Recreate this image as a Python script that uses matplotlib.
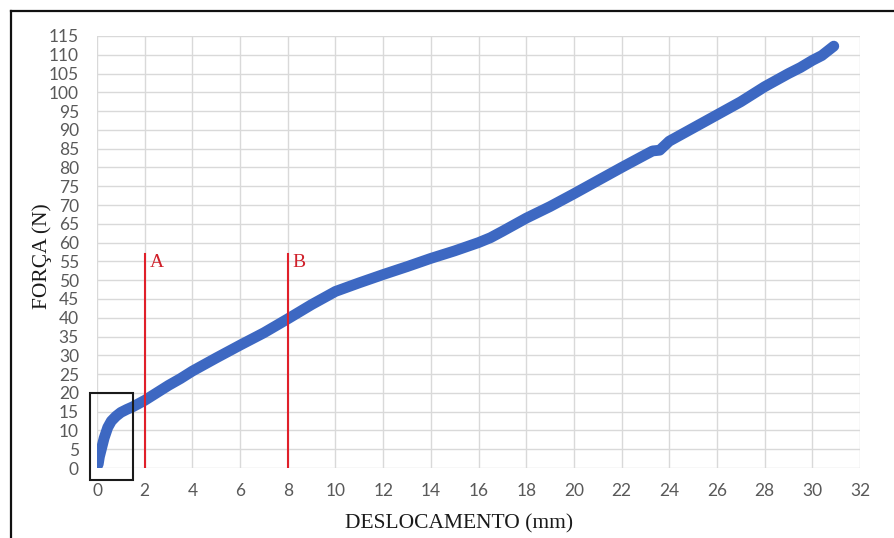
import matplotlib
matplotlib.use("Agg")
import matplotlib.pyplot as plt
from matplotlib.patches import Rectangle
from matplotlib.lines import Line2D

# Curva força x deslocamento
deslocamento = [0.0, 0.05, 0.1, 0.2, 0.3, 0.45, 0.6, 0.8, 1.0, 1.25, 1.5, 2.0, 2.5,
                3.0, 3.5, 4.0, 5.0, 6.0, 7.0, 8.0, 9.0, 10.0, 11.0, 12.0, 13.0,
                14.0, 15.0, 16.0, 16.5, 17.0, 18.0, 19.0, 20.0, 21.0, 22.0, 23.0,
                23.3, 23.6, 24.0, 25.0, 26.0, 27.0, 28.0, 29.0, 29.5, 30.0, 30.4,
                30.9]
forca = [0.5, 1.0, 3.0, 5.5, 8.0, 10.8, 12.5, 13.8, 14.8, 15.6, 16.3, 18.0, 20.0,
         22.0, 23.8, 25.8, 29.3, 32.7, 36.0, 39.7, 43.5, 47.0, 49.3, 51.5, 53.6,
         55.8, 57.8, 60.0, 61.3, 63.0, 66.5, 69.6, 73.0, 76.5, 80.0, 83.4, 84.4,
         84.6, 87.0, 90.5, 94.0, 97.5, 101.5, 105.0, 106.6, 108.5, 109.8, 112.3]

x_ticks = list(range(0, 33, 2))
y_ticks = list(range(0, 116, 5))

marcas = {"A": 2.0, "B": 8.0}
marca_topo = 57

fig = plt.figure(figsize=(8.95, 5.38), dpi=100)
ax = fig.add_axes([0.1084, 0.1301, 0.8525, 0.803])

ax.plot(deslocamento, forca, color="#3D68C2", lw=7.8, solid_capstyle="round",
        solid_joinstyle="round", zorder=3)

for nome, xv in marcas.items():
    ax.plot([xv, xv], [0, marca_topo], color="#E0202A", lw=1.5, zorder=4)
    ax.text(xv + 0.2, marca_topo, nome, color="#D0202A", fontsize=14,
            family="Liberation Serif", va="top", ha="left")

# caixa de destaque no início da curva
ax.add_patch(Rectangle((-0.3, -3.2), 1.8, 23.2, fill=False, ec="#1a1a1a",
                       lw=1.5, zorder=5, clip_on=False))

ax.set_xlim(0, 32)
ax.set_ylim(0, 115)
ax.set_xticks(x_ticks)
ax.set_yticks(y_ticks)
ax.grid(True, color="#d9d9d9", lw=1.0)
ax.set_axisbelow(True)
for s in ax.spines.values():
    s.set_visible(False)
ax.tick_params(length=0, labelsize=12.5, labelcolor="#595959")
ax.tick_params(axis="y", pad=13)
ax.tick_params(axis="x", pad=11)
for lab in ax.get_xticklabels() + ax.get_yticklabels():
    lab.set_family("Lato")

ax.set_xlabel("DESLOCAMENTO (mm)", family="Liberation Serif", fontsize=15.5,
              color="#1a1a1a")
ax.xaxis.set_label_coords(0.474, -0.108)
ax.set_ylabel("FORÇA (N)", family="Liberation Serif", fontsize=15.5,
              color="#1a1a1a")
ax.yaxis.set_label_coords(-0.059, 0.49)

# moldura da imagem (esquerda e topo)
fig.add_artist(Line2D([11 / 895, 11 / 895], [0, 1 - 11 / 538],
                      transform=fig.transFigure, color="#111111", lw=1.6))
fig.add_artist(Line2D([11 / 895, 1], [1 - 11 / 538, 1 - 11 / 538],
                      transform=fig.transFigure, color="#111111", lw=1.6))

fig.savefig("out.png", dpi=100)
